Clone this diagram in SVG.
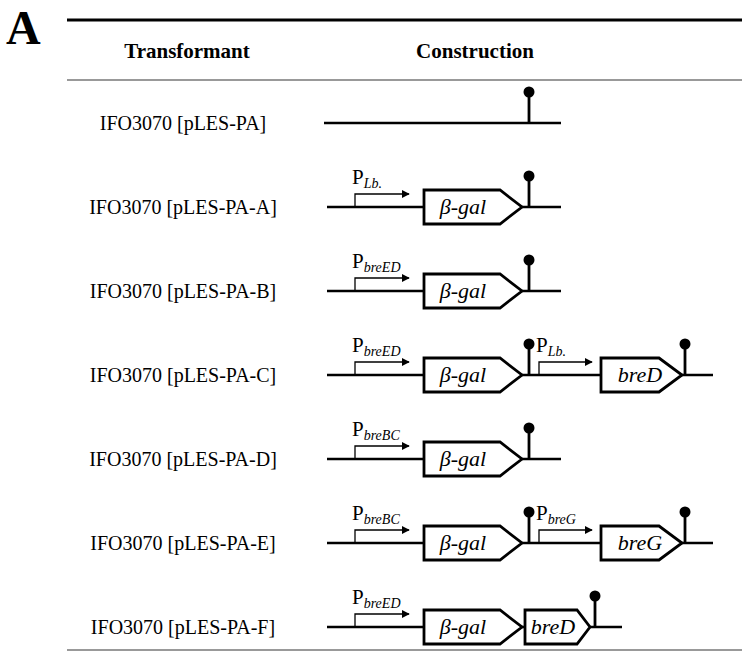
<svg xmlns="http://www.w3.org/2000/svg" width="742" height="661" viewBox="0 0 742 661">
<defs>
<style>
.bb{stroke:#000;stroke-width:2.5;fill:none}
.pr{stroke:#000;stroke-width:1.3;fill:none}
.gene{stroke:#000;stroke-width:2.8;fill:#fff;stroke-linejoin:miter}
.lbl{font-family:"Liberation Serif","Times New Roman",serif;font-size:20px;fill:#000;text-anchor:middle}
.hdr{font-family:"Liberation Serif","Times New Roman",serif;font-size:21px;font-weight:bold;fill:#000;text-anchor:middle}
.gt{font-family:"Liberation Serif","Times New Roman",serif;font-size:22px;font-style:italic;font-weight:normal;fill:#000;text-anchor:middle}
.p{font-family:"Liberation Serif","Times New Roman",serif;font-size:21px;fill:#000}
.sub{font-size:14px;font-style:italic}
</style>
<marker id="arr" viewBox="0 0 10 10" refX="9" refY="5" markerWidth="8" markerHeight="8" markerUnits="userSpaceOnUse" orient="auto">
<path d="M0,0 L10,5 L0,10 z" fill="#000"/>
</marker>
<g id="term">
<line x1="0" y1="0" x2="0" y2="-27" stroke="#000" stroke-width="2.8"/>
<circle cx="0" cy="-31" r="5.5" fill="#000"/>
</g>
</defs>
<rect width="742" height="661" fill="#fff"/>

<g id="title">
<text x="6" y="44" font-family="Liberation Serif,serif" font-size="48" font-weight="bold">A</text>
<line x1="67" y1="20" x2="742" y2="20" stroke="#000" stroke-width="3"/>
<text class="hdr" x="187" y="58">Transformant</text>
<text class="hdr" x="475" y="58">Construction</text>
<line x1="67" y1="80" x2="742" y2="80" stroke="#777" stroke-width="1.5"/>
<line x1="67" y1="650" x2="742" y2="650" stroke="#777" stroke-width="1.5"/>
</g>

<g id="labels">
<text class="lbl" x="183" y="130">IFO3070 [pLES-PA]</text>
<text class="lbl" x="183" y="214">IFO3070 [pLES-PA-A]</text>
<text class="lbl" x="183" y="298">IFO3070 [pLES-PA-B]</text>
<text class="lbl" x="183" y="382">IFO3070 [pLES-PA-C]</text>
<text class="lbl" x="183" y="466">IFO3070 [pLES-PA-D]</text>
<text class="lbl" x="183" y="550">IFO3070 [pLES-PA-E]</text>
<text class="lbl" x="183" y="634">IFO3070 [pLES-PA-F]</text>
</g>

<g id="row1">
<line class="bb" x1="324" y1="123" x2="561" y2="123"/>
<use href="#term" x="529" y="123"/>
</g>

<g id="row2" transform="translate(0,207)">
<line class="bb" x1="327" y1="0" x2="561" y2="0"/>
<path class="pr" d="M355,0 V-13 H409" marker-end="url(#arr)"/>
<text class="p" x="352" y="-23">P<tspan class="sub" dy="4">Lb.</tspan></text>
<path class="gene" d="M424,-17 H500 L522,0 L500,17 H424 Z"/>
<text class="gt" x="463" y="7">β-gal</text>
<use href="#term" x="529" y="0"/>
</g>

<g id="row3" transform="translate(0,291)">
<line class="bb" x1="327" y1="0" x2="561" y2="0"/>
<path class="pr" d="M355,0 V-13 H409" marker-end="url(#arr)"/>
<text class="p" x="352" y="-23">P<tspan class="sub" dy="4">breED</tspan></text>
<path class="gene" d="M424,-17 H500 L522,0 L500,17 H424 Z"/>
<text class="gt" x="463" y="7">β-gal</text>
<use href="#term" x="529" y="0"/>
</g>

<g id="row4" transform="translate(0,375)">
<line class="bb" x1="327" y1="0" x2="713" y2="0"/>
<path class="pr" d="M355,0 V-13 H409" marker-end="url(#arr)"/>
<text class="p" x="352" y="-23">P<tspan class="sub" dy="4">breED</tspan></text>
<path class="gene" d="M424,-17 H500 L522,0 L500,17 H424 Z"/>
<text class="gt" x="463" y="7">β-gal</text>
<use href="#term" x="529" y="0"/>
<path class="pr" d="M539,0 V-13 H592" marker-end="url(#arr)"/>
<text class="p" x="536" y="-23">P<tspan class="sub" dy="4">Lb.</tspan></text>
<path class="gene" d="M601,-17 H659 L682,0 L659,17 H601 Z"/>
<text class="gt" x="640" y="7">breD</text>
<use href="#term" x="685" y="0"/>
</g>

<g id="row5" transform="translate(0,459)">
<line class="bb" x1="327" y1="0" x2="561" y2="0"/>
<path class="pr" d="M355,0 V-13 H409" marker-end="url(#arr)"/>
<text class="p" x="352" y="-23">P<tspan class="sub" dy="4">breBC</tspan></text>
<path class="gene" d="M424,-17 H500 L522,0 L500,17 H424 Z"/>
<text class="gt" x="463" y="7">β-gal</text>
<use href="#term" x="529" y="0"/>
</g>

<g id="row6" transform="translate(0,543)">
<line class="bb" x1="327" y1="0" x2="713" y2="0"/>
<path class="pr" d="M355,0 V-13 H409" marker-end="url(#arr)"/>
<text class="p" x="352" y="-23">P<tspan class="sub" dy="4">breBC</tspan></text>
<path class="gene" d="M424,-17 H500 L522,0 L500,17 H424 Z"/>
<text class="gt" x="463" y="7">β-gal</text>
<use href="#term" x="529" y="0"/>
<path class="pr" d="M539,0 V-13 H592" marker-end="url(#arr)"/>
<text class="p" x="536" y="-23">P<tspan class="sub" dy="4">breG</tspan></text>
<path class="gene" d="M601,-17 H659 L682,0 L659,17 H601 Z"/>
<text class="gt" x="640" y="7">breG</text>
<use href="#term" x="685" y="0"/>
</g>

<g id="row7" transform="translate(0,627)">
<line class="bb" x1="327" y1="0" x2="622" y2="0"/>
<path class="pr" d="M355,0 V-13 H409" marker-end="url(#arr)"/>
<text class="p" x="352" y="-23">P<tspan class="sub" dy="4">breED</tspan></text>
<path class="gene" d="M424,-17 H500 L522,0 L500,17 H424 Z"/>
<text class="gt" x="463" y="7">β-gal</text>
<path class="gene" d="M525,-17 H577 L590,0 L577,17 H525 Z"/>
<text class="gt" x="553" y="7">breD</text>
<use href="#term" x="595" y="0"/>
</g>
</svg>
